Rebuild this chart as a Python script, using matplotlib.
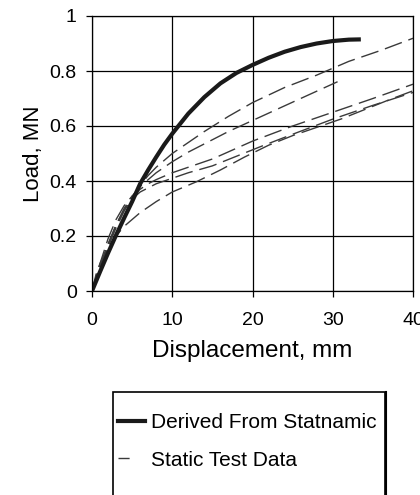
import numpy as np
import matplotlib
matplotlib.use("Agg")
import matplotlib.pyplot as plt
from matplotlib.lines import Line2D
from matplotlib.patches import Rectangle

plt.rcParams['font.family'] = ['Liberation Sans', 'DejaVu Sans']

# load-displacement curve derived from the Statnamic test
derived_disp = [0, 1, 2, 3, 4, 5, 6, 7, 8, 9, 10, 12, 14, 16, 18, 20, 22, 24, 26, 28, 30, 32, 33.5]
derived_load = [0, 0.07, 0.138, 0.203, 0.265, 0.325, 0.39, 0.44, 0.487, 0.532, 0.572, 0.645, 0.705,
                0.755, 0.793, 0.822, 0.848, 0.87, 0.887, 0.9, 0.909, 0.914, 0.915]

# static load test records
static1_disp = [0, 1, 2, 3, 4, 5, 6, 7, 8, 10, 12, 14, 17, 20, 24, 28, 32, 36, 40]
static1_load = [0, 0.08, 0.16, 0.23, 0.29, 0.34, 0.385, 0.42, 0.45, 0.50, 0.54, 0.58, 0.635,
                0.685, 0.74, 0.785, 0.835, 0.875, 0.919]
static2_disp = [0, 1, 2, 3, 4, 5, 6, 8, 10, 12, 14, 17, 20, 23, 26, 30.6]
static2_load = [0, 0.09, 0.17, 0.24, 0.3, 0.345, 0.38, 0.43, 0.47, 0.505, 0.535, 0.58, 0.62,
                0.66, 0.70, 0.761]
static3_disp = [0, 1, 2, 3, 4, 5, 6, 7, 8, 10, 12, 15, 20, 25, 30, 35, 40]
static3_load = [0, 0.1, 0.19, 0.26, 0.31, 0.345, 0.37, 0.39, 0.405, 0.43, 0.45, 0.48, 0.545,
                0.60, 0.65, 0.70, 0.752]
static4_disp = [0, 0.5, 1, 2, 3, 4, 5, 6, 8, 10, 13, 16, 19, 22, 25, 28, 31, 34, 37, 40]
static4_load = [0, 0.06, 0.1, 0.16, 0.2, 0.235, 0.26, 0.285, 0.325, 0.36, 0.397, 0.44, 0.487,
                0.53, 0.565, 0.595, 0.625, 0.66, 0.695, 0.728]
static5_disp = [0, 1, 2, 3, 4, 5, 6, 7, 8, 10, 12, 15, 18, 21, 25, 30, 35, 40]
static5_load = [0, 0.09, 0.17, 0.24, 0.295, 0.335, 0.36, 0.375, 0.39, 0.41, 0.43, 0.455, 0.49,
                0.525, 0.57, 0.625, 0.675, 0.722]

static_sets = [
    (static1_disp, static1_load),
    (static2_disp, static2_load),
    (static3_disp, static3_load),
    (static4_disp, static4_load),
    (static5_disp, static5_load),
]

fig = plt.figure(figsize=(4.2, 4.95), dpi=100)
ax = fig.add_axes([92 / 420, 1 - 291 / 495, 321 / 420, 275 / 495])

for d, l in static_sets:
    ax.plot(d, l, color="#3a3a3a", lw=1.0, dashes=(13, 5))
ax.plot(derived_disp, derived_load, color="#1a1a1a", lw=3.0, solid_capstyle="butt")

ax.set_xlim(0, 40)
ax.set_ylim(0, 1)
ax.set_xticks([0, 10, 20, 30, 40])
ax.set_yticks([0, 0.2, 0.4, 0.6, 0.8, 1])
ax.set_yticklabels(["0", "0.2", "0.4", "0.6", "0.8", "1"])
ax.grid(True, color="black", lw=0.9)
for s in ax.spines.values():
    s.set_linewidth(0.9)
ax.tick_params(direction="out", length=4, width=0.9, labelsize=14, pad=7)
ax.tick_params(axis="x", pad=11)
ax.set_xlabel("Displacement, mm", fontsize=17.5, labelpad=8)
ax.set_ylabel("Load, MN", fontsize=16, labelpad=4)

# legend box runs past the bottom edge of the figure
x0, x1 = 113 / 420, 385 / 420
y_top = 1 - 392 / 495
fig.patches.append(Rectangle((x0, -0.05), x1 - x0, y_top + 0.05, transform=fig.transFigure,
                             fill=False, lw=1.2, edgecolor="black"))
fig.lines.append(Line2D([x1 + 0.002, x1 + 0.002], [-0.05, y_top], transform=fig.transFigure,
                        color="black", lw=1.5))

handles = [
    Line2D([], [], color="#1a1a1a", lw=3.0),
    Line2D([], [], color="#3a3a3a", lw=1.0, dashes=(8, 30)),
]
fig.legend(handles, ["Derived From Statnamic", "Static Test Data"],
           loc="upper left", bbox_to_anchor=(118 / 420, 1 - 413 / 495),
           frameon=False, fontsize=15, handlelength=1.3, handletextpad=0.3,
           labelspacing=0.9, borderpad=0, borderaxespad=0)

fig.savefig("out.png", dpi=100)
